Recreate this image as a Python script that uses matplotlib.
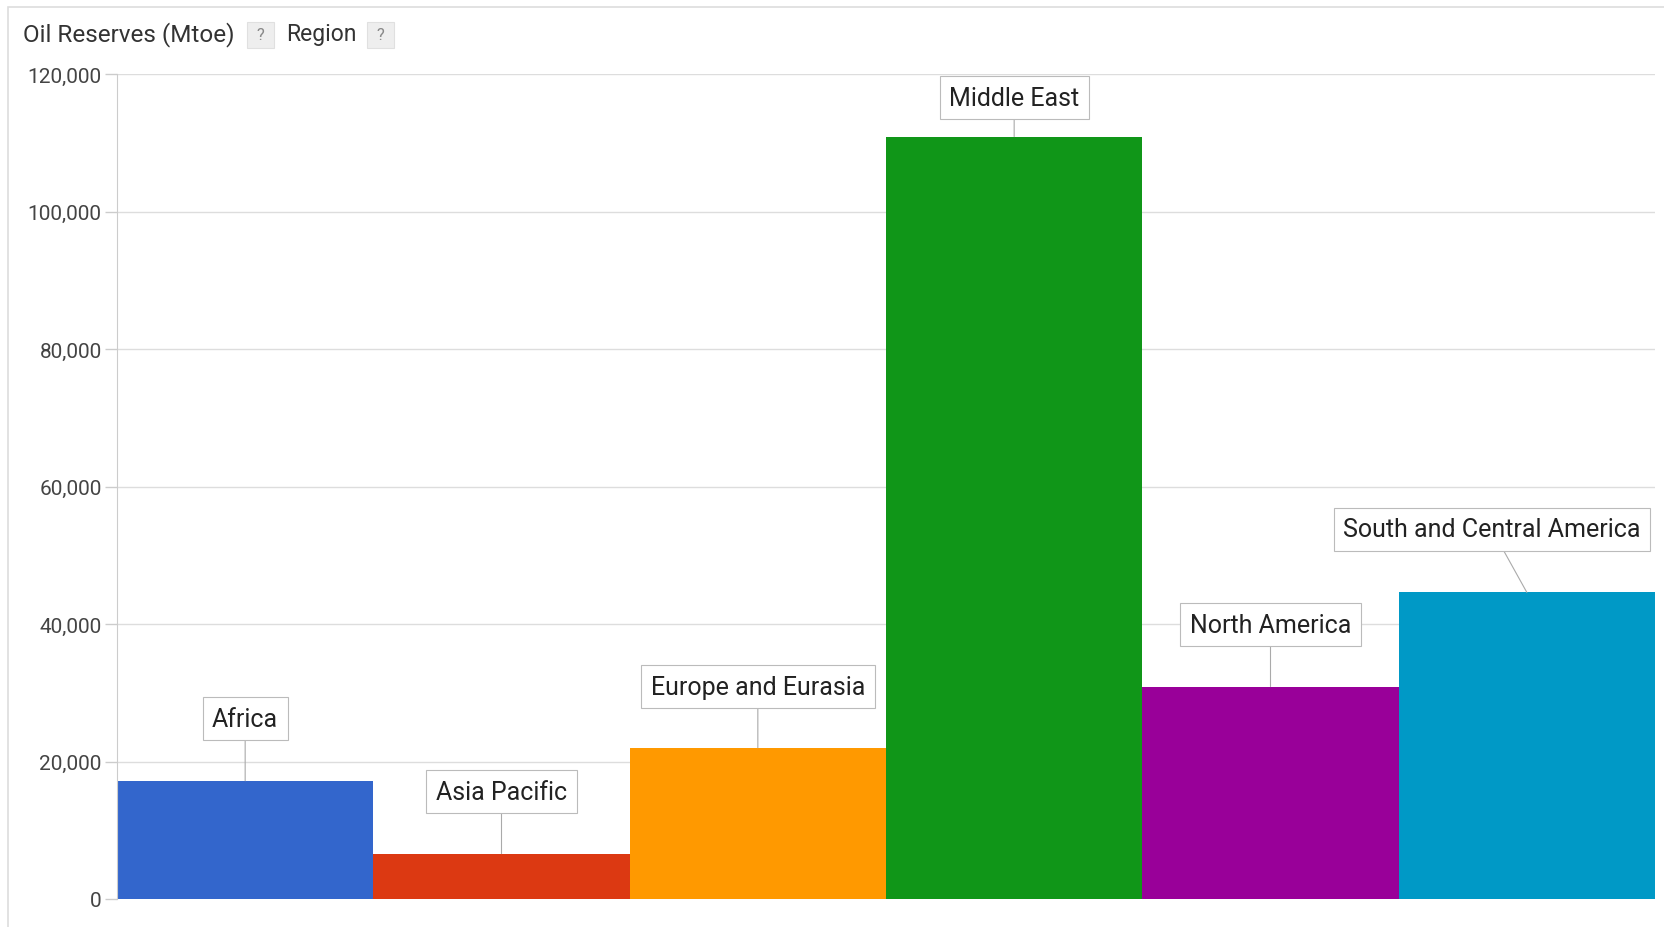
import matplotlib.pyplot as plt
from matplotlib.patches import Rectangle
from matplotlib.ticker import FuncFormatter

# oil reserves by region, Mtoe
regions = ["Africa", "Asia Pacific", "Europe and Eurasia", "Middle East",
           "North America", "South and Central America"]
reserves = [17200, 6600, 22000, 110900, 30900, 44600]
colors = ["#3366cc", "#dc3912", "#ff9900", "#109618", "#990099", "#0099c6"]
yticks = [0, 20000, 40000, 60000, 80000, 100000, 120000]

# where each label box sits relative to its bar top (pixels)
label_offsets = [(0, 62), (0, 62), (0, 61), (0, 39), (0, 62), (-35, 63)]

plt.rcParams['font.family'] = ['Roboto', 'DejaVu Sans']

fig = plt.figure(figsize=(16.64, 9.28), dpi=100)
ax = fig.add_axes([117/1664, 1 - 900/928, (1655 - 117)/1664, (900 - 75)/928])

x = range(len(regions))
ax.bar(x, reserves, width=1.0, color=colors, linewidth=0, zorder=2)
ax.set_xlim(-0.5, len(regions) - 0.5)
ax.set_ylim(0, 120000)

ax.set_yticks(yticks)
ax.yaxis.set_major_formatter(FuncFormatter(lambda v, p: f"{int(v):,}"))
ax.tick_params(axis='y', length=9, width=1, color='#cccccc', labelsize=15,
               labelcolor='#444444', pad=2)
ax.set_xticks([])
ax.grid(axis='y', color='#dddddd', linewidth=1, zorder=0)

for side in ['top', 'right', 'bottom']:
    ax.spines[side].set_visible(False)
ax.spines['left'].set_color('#cccccc')

for i, (name, val) in enumerate(zip(regions, reserves)):
    dx, dy = label_offsets[i]
    ax.annotate(name, xy=(i, val), xytext=(dx, dy), textcoords='offset pixels',
                ha='center', va='center', fontsize=18, color='#222222',
                bbox=dict(boxstyle='square,pad=0.38', fc='white', ec='#bbbbbb', lw=0.8),
                arrowprops=dict(arrowstyle='-', color='#aaaaaa', lw=0.8,
                                shrinkA=0, shrinkB=0),
                zorder=5)

# header with field names and help buttons
fig.text(23/1664, 1 - 35/928, "Oil Reserves (Mtoe)", fontsize=17.5, color='#333333',
         ha='left', va='center')
fig.text(286/1664, 1 - 35/928, "Region", fontsize=16.5, color='#333333',
         ha='left', va='center')
for bx in (247, 367):
    fig.patches.append(Rectangle((bx/1664, 1 - 49/928), 27/1664, 26/928,
                                 transform=fig.transFigure, fc='#eeeeee',
                                 ec='#e0e0e0', lw=0.8))
    fig.text((bx + 13.5)/1664, 1 - 36/928, "?", fontsize=12, color='#888888',
             ha='center', va='center')

# outer panel border
fig.patches.append(Rectangle((8/1664, -0.1), 1.2, 1 - 8/928 + 0.1,
                             transform=fig.transFigure, fill=False,
                             ec='#dddddd', lw=1.2))

fig.savefig("out.png", dpi=100)
